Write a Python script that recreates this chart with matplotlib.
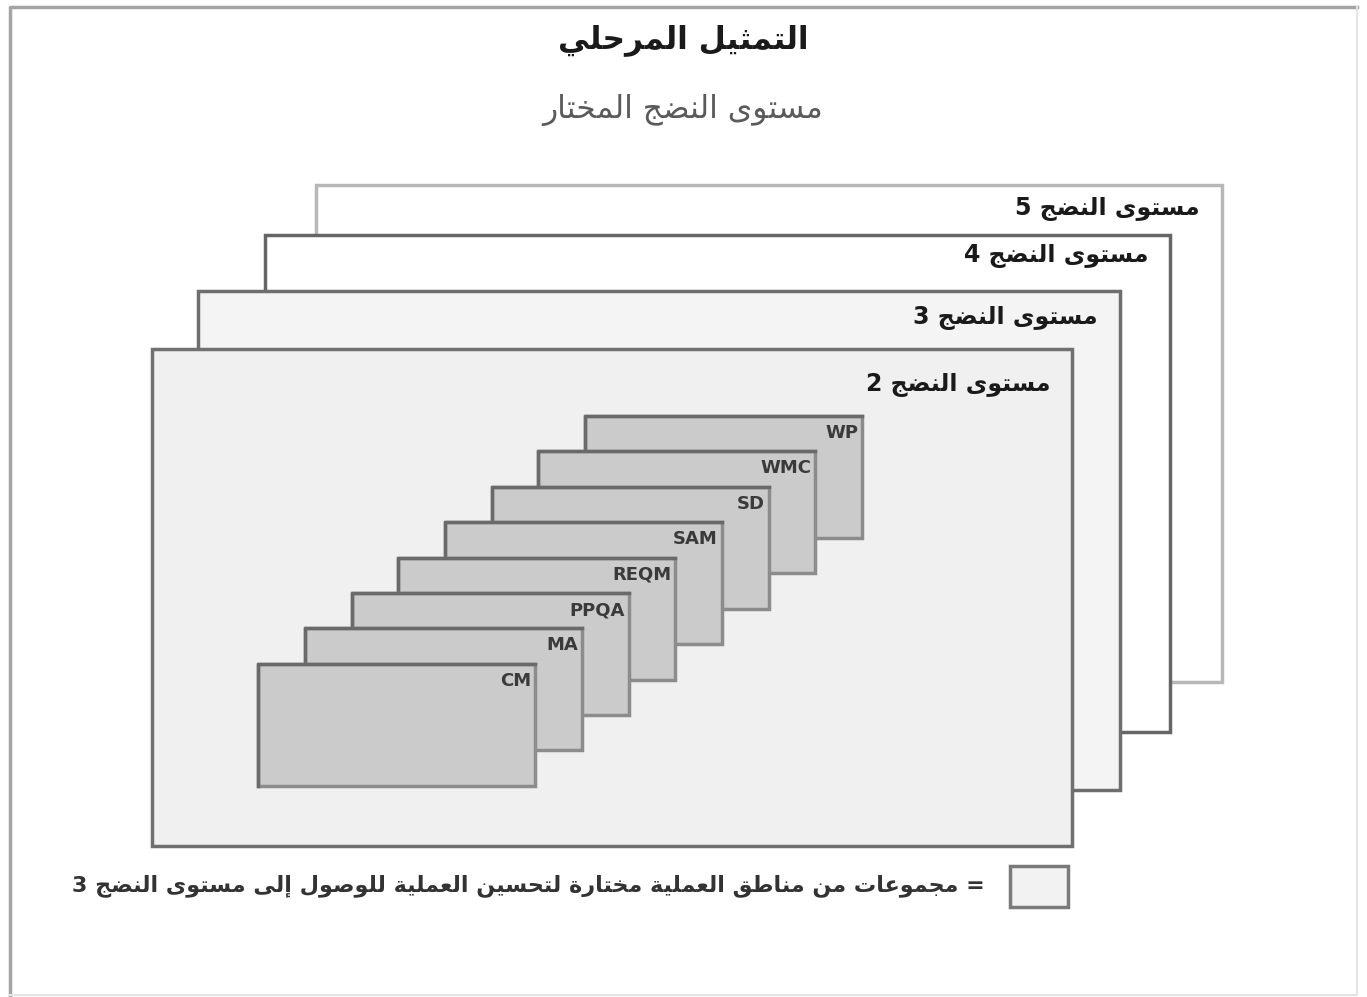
import matplotlib.pyplot as plt
from matplotlib.patches import Rectangle

# Data
title = 'التمثيل المرحلي'
subtitle = 'مستوى النضج المختار'
level_names = ['مستوى النضج 5', 'مستوى النضج 4', 'مستوى النضج 3', 'مستوى النضج 2']
process_areas = ['WP', 'WMC', 'SD', 'SAM', 'REQM', 'PPQA', 'MA', 'CM']
legend_text = '= مجموعات من مناطق العملية مختارة لتحسين العملية للوصول إلى مستوى النضج 3'

# Arabic shaping (matplotlib has no complex text layout)
# letter: (isolated, final, initial, medial)
FORMS = {
    'ا': (0xFE8D, 0xFE8E, None, None), 'أ': (0xFE83, 0xFE84, None, None),
    'إ': (0xFE87, 0xFE88, None, None), 'آ': (0xFE81, 0xFE82, None, None),
    'ب': (0xFE8F, 0xFE90, 0xFE91, 0xFE92), 'ة': (0xFE93, 0xFE94, None, None),
    'ت': (0xFE95, 0xFE96, 0xFE97, 0xFE98), 'ث': (0xFE99, 0xFE9A, 0xFE9B, 0xFE9C),
    'ج': (0xFE9D, 0xFE9E, 0xFE9F, 0xFEA0), 'ح': (0xFEA1, 0xFEA2, 0xFEA3, 0xFEA4),
    'خ': (0xFEA5, 0xFEA6, 0xFEA7, 0xFEA8), 'د': (0xFEA9, 0xFEAA, None, None),
    'ذ': (0xFEAB, 0xFEAC, None, None), 'ر': (0xFEAD, 0xFEAE, None, None),
    'ز': (0xFEAF, 0xFEB0, None, None), 'س': (0xFEB1, 0xFEB2, 0xFEB3, 0xFEB4),
    'ش': (0xFEB5, 0xFEB6, 0xFEB7, 0xFEB8), 'ص': (0xFEB9, 0xFEBA, 0xFEBB, 0xFEBC),
    'ض': (0xFEBD, 0xFEBE, 0xFEBF, 0xFEC0), 'ط': (0xFEC1, 0xFEC2, 0xFEC3, 0xFEC4),
    'ظ': (0xFEC5, 0xFEC6, 0xFEC7, 0xFEC8), 'ع': (0xFEC9, 0xFECA, 0xFECB, 0xFECC),
    'غ': (0xFECD, 0xFECE, 0xFECF, 0xFED0), 'ف': (0xFED1, 0xFED2, 0xFED3, 0xFED4),
    'ق': (0xFED5, 0xFED6, 0xFED7, 0xFED8), 'ك': (0xFED9, 0xFEDA, 0xFEDB, 0xFEDC),
    'ل': (0xFEDD, 0xFEDE, 0xFEDF, 0xFEE0), 'م': (0xFEE1, 0xFEE2, 0xFEE3, 0xFEE4),
    'ن': (0xFEE5, 0xFEE6, 0xFEE7, 0xFEE8), 'ه': (0xFEE9, 0xFEEA, 0xFEEB, 0xFEEC),
    'و': (0xFEED, 0xFEEE, None, None), 'ى': (0xFEEF, 0xFEF0, None, None),
    'ي': (0xFEF1, 0xFEF2, 0xFEF3, 0xFEF4),
}
LAM_ALEF = {'ا': (0xFEFB, 0xFEFC), 'أ': (0xFEF7, 0xFEF8),
            'إ': (0xFEF9, 0xFEFA), 'آ': (0xFEF5, 0xFEF6)}


def joins_next(c):
    return c in FORMS and FORMS[c][2] is not None


def ar(s):
    chars = list(s)
    out = []
    i = 0
    while i < len(chars):
        c = chars[i]
        prev = chars[i - 1] if i > 0 else ''
        nxt = chars[i + 1] if i + 1 < len(chars) else ''
        if c not in FORMS:
            out.append(c)
            i += 1
            continue
        p = joins_next(prev)
        if c == 'ل' and nxt in LAM_ALEF:
            out.append(chr(LAM_ALEF[nxt][1 if p else 0]))
            i += 2
            continue
        n = joins_next(c) and nxt in FORMS
        iso, fin, ini, med = FORMS[c]
        if p and n:
            g = med
        elif p:
            g = fin
        elif n:
            g = ini
        else:
            g = iso
        out.append(chr(g))
        i += 1
    return ''.join(out[::-1])


fig = plt.figure(figsize=(13.67, 9.97), dpi=100)
ax = fig.add_axes([0, 0, 1, 1])
ax.set_xlim(0, 1367)
ax.set_ylim(997, 0)
ax.axis('off')

# outer frame: top/left visible, right/bottom faint
ax.plot([10, 10, 1357], [995, 7, 7], color='#a4a4a4', linewidth=2.5)
ax.plot([1357, 1357, 10], [7, 995, 995], color='#e4e4e4', linewidth=1.5)

ax.text(683, 40, ar(title), ha='center', va='center', fontsize=22.5, fontweight='bold',
        color='#1a1a1a', family='DejaVu Sans')
ax.text(683, 110, ar(subtitle), ha='center', va='center', fontsize=22.5,
        color='#5a5a5a', family='DejaVu Sans')

# maturity level frames (back to front)
level_x = [316, 265, 198, 152]
level_y = [185, 235, 291, 349]
level_w = [906, 905, 922, 920]
level_h = [497, 497, 499, 497]
level_fill = ['white', 'white', '#f4f4f4', '#f0f0f0']
level_edge = ['#b8b8b8', '#666666', '#6e6e6e', '#707070']
level_label_dy = [24, 21, 27, 36]
for i, name in enumerate(level_names):
    x0, y0, w, h = level_x[i], level_y[i], level_w[i], level_h[i]
    ax.add_patch(Rectangle((x0, y0), w, h, facecolor=level_fill[i],
                           edgecolor=level_edge[i], linewidth=2.5, zorder=1 + i * 0.01))
    ax.text(x0 + w - 22, y0 + level_label_dy[i], ar(name), ha='right', va='center',
            fontsize=17, fontweight='bold', color='#1a1a1a', family='DejaVu Sans',
            zorder=1.005 + i * 0.01)

# process area boxes (back to front)
for i, pa in enumerate(process_areas):
    x0 = 585 - i * 46.7
    y0 = 416 + i * 35.4
    z = 2 + i * 0.1
    ax.add_patch(Rectangle((x0, y0), 277, 122, facecolor='#cbcbcb',
                           edgecolor='#8c8c8c', linewidth=2.5, zorder=z))
    ax.plot([x0, x0, x0 + 277], [y0 + 122, y0, y0], color='#6a6a6a',
            linewidth=2.5, zorder=z + 0.01)
    ax.text(x0 + 273, y0 + 17, pa, ha='right', va='center', fontsize=13,
            fontweight='bold', color='#3a3a3a', family='DejaVu Sans', zorder=z + 0.02)

# legend
ax.add_patch(Rectangle((1010, 866), 58, 41, facecolor='#f2f2f2',
                       edgecolor='#7a7a7a', linewidth=2.5))
ax.text(985, 886, ar(legend_text), ha='right', va='center', fontsize=16,
        fontweight='bold', color='#333333', family='DejaVu Sans')

fig.savefig('out.png', dpi=100, facecolor='white')
